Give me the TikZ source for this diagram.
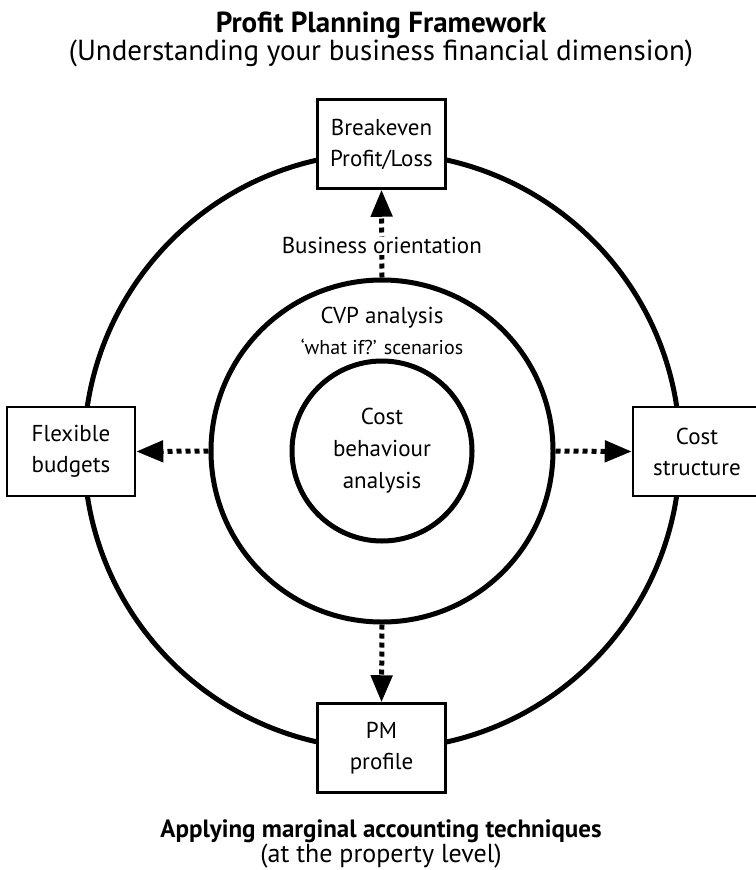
\documentclass[tikz,border=0pt]{standalone}
\usepackage{fontspec}
\setmainfont{PT Sans}
\usetikzlibrary{arrows.meta,positioning}

\tikzset{
  ring/.style={draw,circle,line width=5pt,inner sep=0pt},
  box/.style={draw,fill=white,line width=2.5pt,minimum width=128pt,minimum height=89pt,
    align=center,font=\fontsize{23}{31}\selectfont},
  flow/.style={line width=5pt,dash pattern=on 5pt off 4pt,
    -{Triangle[length=27pt,width=21pt]}},
}

\begin{document}
\begin{tikzpicture}[x=1pt,y=-1pt]
      \useasboundingbox (0,0) rectangle (755,870);
      % titles
      \node[anchor=base,font=\bfseries\fontsize{29}{32}\selectfont](title) at (381,32) {Profit Planning Framework};
      \node[anchor=base,font=\fontsize{29}{32}\selectfont](subtitle) at (381,60) {(Understanding your business financial dimension)};
      \node[anchor=base,font=\bfseries\fontsize{25}{28}\selectfont](footer) at (381,837) {Applying marginal accounting techniques};
      \node[anchor=base,font=\fontsize{26}{28}\selectfont](subfooter) at (381,862) {(at the property level)};
      % rings
      \node[ring,minimum size=596pt](outer) at (382,451) {};
      \node[ring,minimum size=342pt](cvp) at (382,451) {};
      \node[ring,minimum size=180pt,align=center,font=\fontsize{23}{32}\selectfont](cost) at (382,451) {Cost\\behaviour\\analysis};
      \node[anchor=base,font=\fontsize{23}{26}\selectfont](cvplabel) at (382,323) {CVP analysis};
      \node[anchor=base,font=\fontsize{20}{22}\selectfont](whatif) at (382,354) {‘what if?’ scenarios};
      % boxes
      \node[box](breakeven) at (381.5,144) {Breakeven\\Profit/Loss};
      \node[box](flexible) at (71,451.5) {Flexible\\budgets};
      \node[box](structure) at (697,451.5) {Cost\\structure};
      \node[box](pm) at (381.5,748) {PM\\profile};
      % arrows
      \draw[flow] (cvp.north) -- (breakeven.south)
        node[pos=0.36,fill=white,inner sep=1pt,font=\fontsize{23}{26}\selectfont](orient) {Business orientation};
      \draw[flow] (cvp.west) -- (flexible.east);
      \draw[flow] (cvp.east) -- (structure.west);
      \draw[flow] (cvp.south) -- (pm.north);
    \end{tikzpicture}
\end{document}
